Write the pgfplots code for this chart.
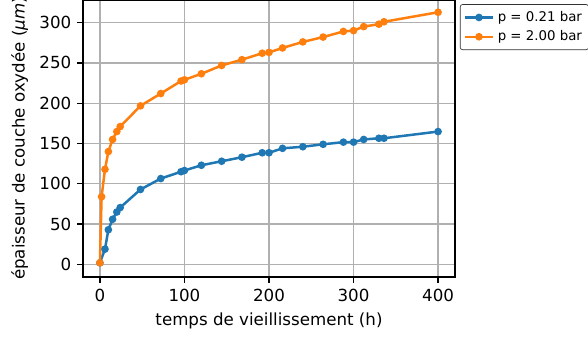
\documentclass[border=0pt]{standalone}
\usepackage{fontspec}
\setmainfont{DejaVu Sans}
\usepackage{pgfplots}
\pgfplotsset{compat=1.18}
\definecolor{tabblue}{HTML}{1F77B4}
\definecolor{taborange}{HTML}{FF7F0E}
\begin{document}
\begin{tikzpicture}
\begin{axis}[
  name=ax, at={(0,0)}, anchor=south west,
  scale only axis, width=223.2pt, height=166.2pt,
  xmin=-20, xmax=420, ymin=-15.6, ymax=328,
  xtick={0,100,200,300,400}, ytick={0,50,100,150,200,250,300},
  xtick pos=bottom, ytick pos=left,
  tick align=outside, major tick length=3.5pt,
  every tick/.style={black, line width=0.8pt},
  axis line style={line width=0.8pt},
  grid=major, grid style={color=black!31, line width=0.8pt},
  /pgf/number format/assume math mode=true,
  tick label style={font=\fontsize{10}{12}\selectfont},
  label style={font=\fontsize{10}{12}\selectfont},
  xlabel={temps de vieillissement (h)},
  ylabel={épaisseur de couche oxydée (\textit{μm})},
  legend style={at={(1.013,0.985)}, anchor=north west, draw=black!80, rounded corners=1.5pt,
    font=\fontsize{8}{9.6}\selectfont, row sep=0pt, inner sep=2pt,
    /tikz/every even column/.append style={column sep=3pt}},
  legend cell align=left,
]
\addplot[color=tabblue, line width=1.5pt, mark=*, mark size=1.5pt] coordinates {
(0,2) (6,19) (10,43) (15,56) (20,65) (24,70.5) (48,93) (72,106.5) (96,115) (100,116.5)
(120,123) (144,128) (168,133) (192,138.5) (200,138.5) (216,144) (240,146) (264,149)
(288,151.7) (300,151.7) (312,155) (330,156.5) (336,156.5) (400,164.8)
};
\addlegendentry{p = 0.21 bar}
\addplot[color=taborange, line width=1.5pt, mark=*, mark size=1.5pt] coordinates {
(0,2) (2,84) (6,118) (10,140) (15,155) (20,164.8) (24,171) (48,196.7) (72,212) (96,227.5) (100,229)
(120,236.5) (144,246.8) (168,254) (192,262) (200,263) (216,268.5) (240,276) (264,282)
(288,289) (300,290) (312,295) (330,298) (336,301) (400,312.8)
};
\addlegendentry{p = 2.00 bar}
\end{axis}
\pgfresetboundingbox
\path[use as bounding box] (-49.8pt,-37.8pt) rectangle (303pt,166.2pt);
\end{tikzpicture}
\end{document}
